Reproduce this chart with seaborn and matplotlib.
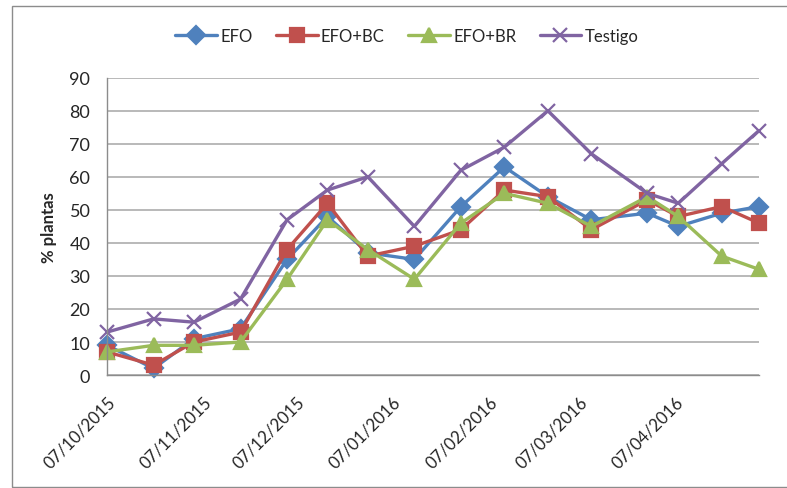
import pandas as pd
import seaborn as sns
import matplotlib.pyplot as plt
import matplotlib.dates as mdates
import matplotlib.transforms as mtransforms
from matplotlib.patches import Rectangle

# values
dates = ["2015-10-07", "2015-10-22", "2015-11-04", "2015-11-19", "2015-12-04",
         "2015-12-17", "2015-12-30", "2016-01-14", "2016-01-29", "2016-02-12",
         "2016-02-26", "2016-03-11", "2016-03-29", "2016-04-08", "2016-04-22",
         "2016-05-04"]
efo = [9, 2, 11, 14, 35, 48, 37, 35, 51, 63, 54, 47, 49, 45, 49, 51]
efo_bc = [7, 3, 10, 13, 38, 52, 36, 39, 44, 56, 54, 44, 53, 48, 51, 46]
efo_br = [7, 9, 9, 10, 29, 47, 38, 29, 46, 55, 52, 45, 54, 48, 36, 32]
testigo = [13, 17, 16, 23, 47, 56, 60, 45, 62, 69, 80, 67, 55, 52, 64, 74]

series_names = ["EFO", "EFO+BC", "EFO+BR", "Testigo"]
tick_dates = ["2015-10-07", "2015-11-07", "2015-12-07", "2016-01-07",
              "2016-02-07", "2016-03-07", "2016-04-07"]
y_ticks = [0, 10, 20, 30, 40, 50, 60, 70, 80, 90]

sns.set_theme(style="white")
plt.rcParams["font.family"] = ["Lato", "DejaVu Sans"]

df = pd.DataFrame({
    "fecha": pd.to_datetime(dates * 4),
    "valor": efo + efo_bc + efo_br + testigo,
    "serie": [n for n in series_names for _ in dates],
})

colors = {"EFO": "#4F81BD", "EFO+BC": "#C0504D",
          "EFO+BR": "#9BBB59", "Testigo": "#8064A2"}
markers = {"EFO": "D", "EFO+BC": "s", "EFO+BR": "^", "Testigo": "x"}
msizes = {"EFO": 9, "EFO+BC": 9.5, "EFO+BR": 10.5, "Testigo": 10}

fig, ax = plt.subplots(figsize=(7.87, 4.89), dpi=100)
fig.subplots_adjust(left=0.136, right=0.9644, top=0.839, bottom=0.231)

# filled and line-art markers can't share one call, so one series at a time
for name in series_names:
    sub = df[df["serie"] == name]
    sns.lineplot(
        data=sub, x="fecha", y="valor", label=name,
        color=colors[name], marker=markers[name],
        markersize=msizes[name], markeredgewidth=1.6,
        markeredgecolor=colors[name], linewidth=2.4,
        ax=ax,
    )
for line in ax.lines:
    line.set_clip_on(False)

handles, labels = ax.get_legend_handles_labels()
ax.legend(handles, labels, loc="center", bbox_to_anchor=(0.517, 0.924),
          bbox_transform=fig.transFigure, ncol=4, frameon=False,
          fontsize=12, handlelength=2.5, handletextpad=0.2,
          columnspacing=1.4)

ax.set_ylim(0, 90)
ax.set_yticks(y_ticks)
ax.set_xlim(pd.Timestamp(dates[0]), pd.Timestamp(dates[-1]))
ax.set_xticks(pd.to_datetime(tick_dates))
ax.xaxis.set_major_formatter(mdates.DateFormatter("%d/%m/%Y"))

ax.grid(axis="y", color="#a6a6a6", linewidth=1.1)
ax.set_axisbelow(True)
for side in ["top", "right"]:
    ax.spines[side].set_visible(False)
for side in ["left", "bottom"]:
    ax.spines[side].set_color("#8c8c8c")
    ax.spines[side].set_linewidth(1.0)

ax.tick_params(axis="y", length=0, pad=12, labelsize=13, colors="#262626")
ax.tick_params(axis="x", length=0, pad=17, labelsize=12.2, colors="#262626")
shift = mtransforms.ScaledTranslation(4 / 72, 0, fig.dpi_scale_trans)
for lab in ax.get_xticklabels():
    lab.set_rotation(45)
    lab.set_ha("right")
    lab.set_va("center")
    lab.set_rotation_mode("anchor")
    lab.set_transform(lab.get_transform() + shift)

ax.set_xlabel("")
ax.set_ylabel("% plantas", fontsize=12, fontweight="bold", labelpad=9)

# chart area border
fig.patches.append(Rectangle((0.0152, 0.002), 1.0, 0.984, fill=False,
                             edgecolor="#8c8c8c", linewidth=1.0,
                             transform=fig.transFigure, figure=fig))

fig.savefig("out.png", dpi=100)
